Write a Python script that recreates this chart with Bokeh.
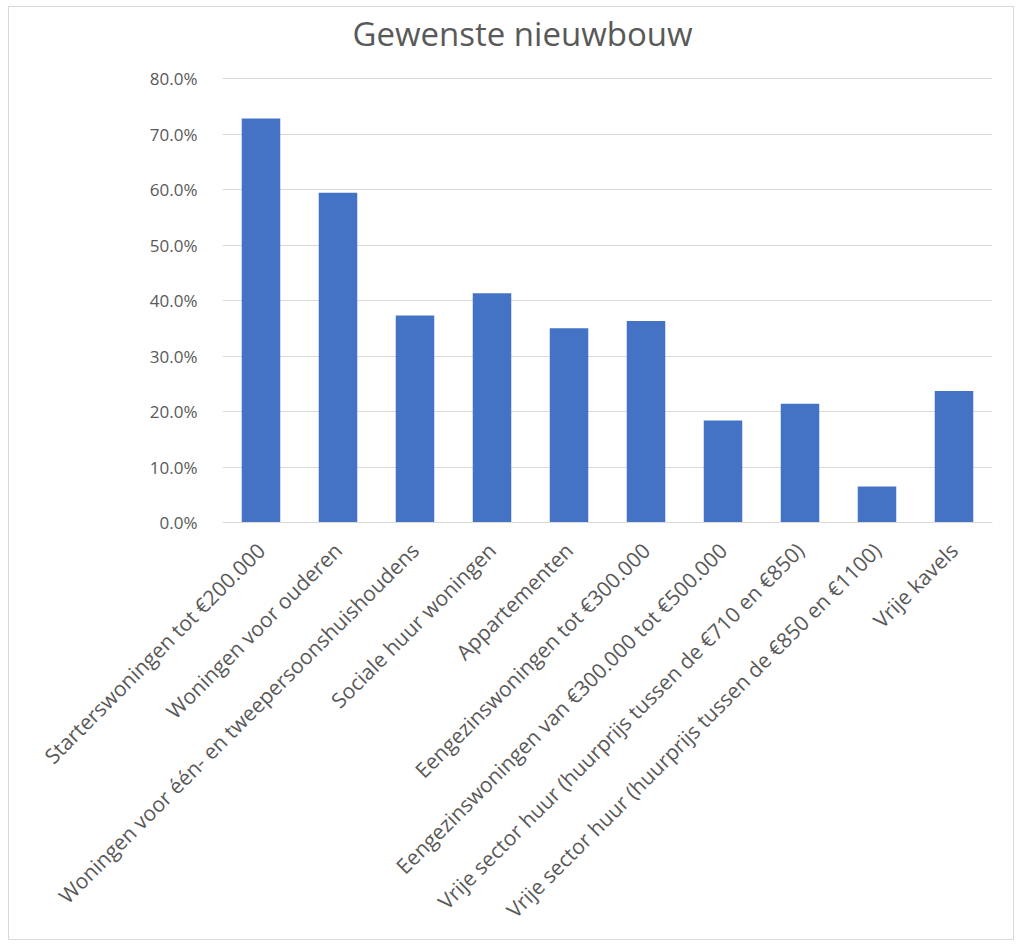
import math
from bokeh.plotting import figure
from bokeh.models import ColumnDataSource, NumeralTickFormatter, FixedTicker, Range1d, Label
from bokeh.embed import file_html
from bokeh.resources import INLINE

title_text = "Gewenste nieuwbouw"
categories = [
    "Starterswoningen tot €200.000",
    "Woningen voor ouderen",
    "Woningen voor één- en tweepersoonshuishoudens",
    "Sociale huur woningen",
    "Appartementen",
    "Eengezinswoningen tot €300.000",
    "Eengezinswoningen van €300.000 tot €500.000",
    "Vrije sector huur (huurprijs tussen de €710 en €850)",
    "Vrije sector huur (huurprijs tussen de €850 en €1100)",
    "Vrije kavels",
]
values = [0.728, 0.594, 0.373, 0.413, 0.350, 0.363, 0.184, 0.214, 0.065, 0.237]
y_ticks = [0.0, 0.1, 0.2, 0.3, 0.4, 0.5, 0.6, 0.7, 0.8]

FONT = "Open Sans"
TXT = "#595959"

source = ColumnDataSource(data=dict(cat=categories, val=values))

# The plot frame extends above the 80% gridline to leave room for the title inside it
FRAME_TOP = 3        # px from figure top
FRAME_H = 512        # px, frame height
AXIS_MAX = 0.8       # top gridline value
AXIS_PX = 444        # px between 0% and 80%
y_end = AXIS_MAX * FRAME_H / AXIS_PX

p = figure(
    x_range=categories,
    y_range=Range1d(0, y_end),
    width=1006,
    height=934,
    output_backend="svg",
    toolbar_location=None,
    min_border_left=213,
    min_border_right=23,
    min_border_top=FRAME_TOP,
    min_border_bottom=934 - FRAME_TOP - FRAME_H,
)
p.margin = (6, 8, 4, 8)
p.styles = {"border": "1px solid #d9d9d9"}
p.title.text = ""

# Chart title (screen units relative to the frame's bottom-left corner)
p.add_layout(Label(x=300, y=489, x_units="screen", y_units="screen",
                   text=title_text, text_align="center", text_baseline="middle",
                   text_font=FONT, text_font_size="33px", text_color=TXT))

p.vbar(x="cat", top="val", width=0.5, source=source, color="#4472C4", line_color=None)

p.outline_line_color = None
p.xgrid.grid_line_color = None
p.ygrid.grid_line_color = "#d9d9d9"
p.ygrid.grid_line_width = 1

p.yaxis.ticker = FixedTicker(ticks=y_ticks)
p.yaxis.formatter = NumeralTickFormatter(format="0.0%")
p.yaxis.axis_line_color = None
p.yaxis.major_tick_line_color = None
p.yaxis.minor_tick_line_color = None
p.yaxis.major_label_text_font = FONT
p.yaxis.major_label_text_font_size = "17px"
p.yaxis.major_label_text_color = TXT
p.yaxis.major_label_standoff = 19

p.xaxis.axis_line_color = "#d9d9d9"
p.xaxis.major_tick_line_color = None
p.xaxis.minor_tick_line_color = None
p.xaxis.major_label_orientation = math.pi / 4
p.xaxis.major_label_text_font = FONT
p.xaxis.major_label_text_font_size = "21px"
p.xaxis.major_label_text_color = TXT
p.xaxis.major_label_standoff = 18

p.background_fill_color = "white"
p.border_fill_color = "white"

open("out.html", "w").write(file_html(p, INLINE))
